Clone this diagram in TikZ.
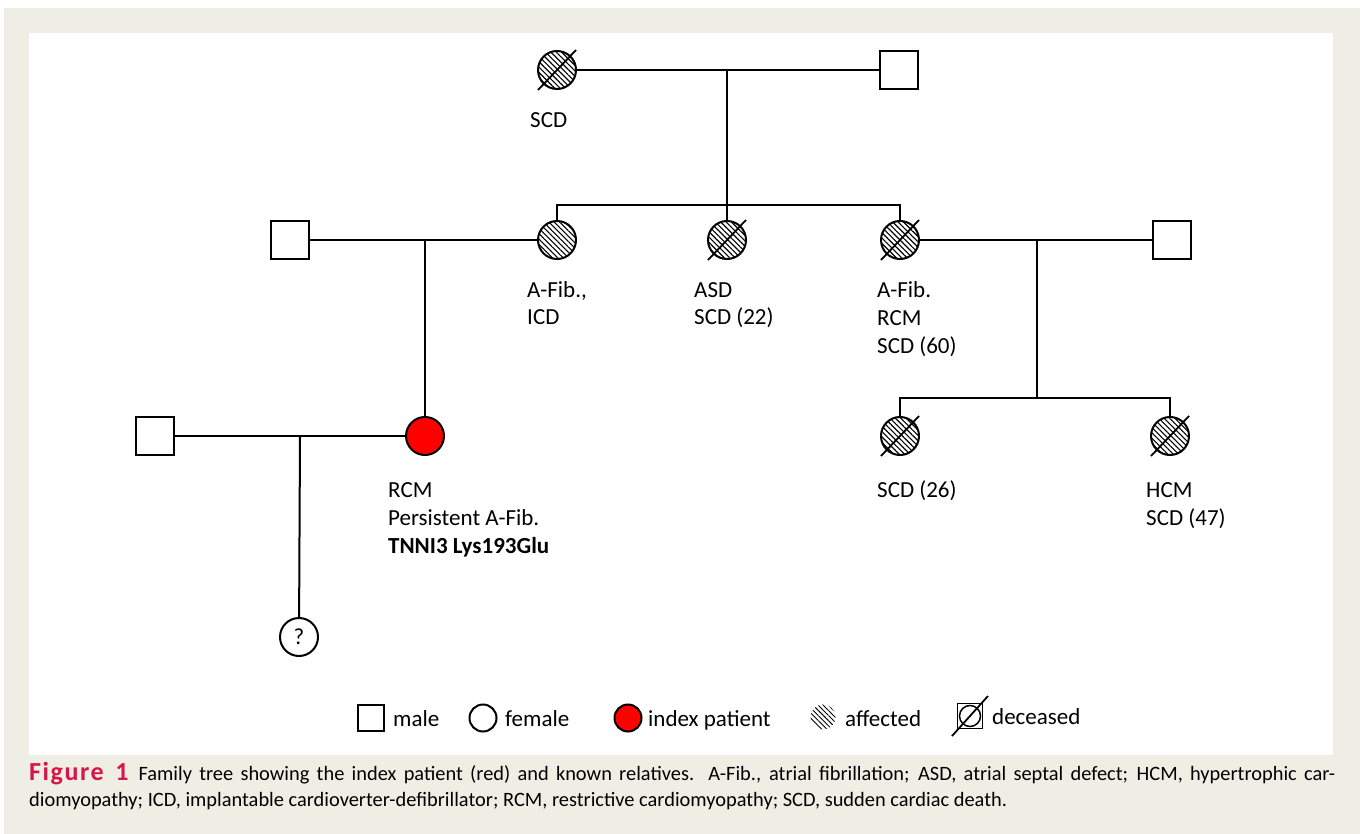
\documentclass[tikz,border=0pt]{standalone}
\usepackage{fontspec}
\setmainfont{Carlito}
\usepackage{xcolor}
\usetikzlibrary{patterns.meta}

\definecolor{paper}{HTML}{EFEEE4}
\definecolor{figred}{HTML}{D6164A}

\tikzset{
  male/.style={draw,line width=2pt,minimum size=38pt,inner sep=0pt,fill=white},
  female/.style={draw,circle,line width=2pt,minimum size=38pt,inner sep=0pt,fill=white},
  affected/.style={pattern={Lines[angle=-45,distance=3.8pt,line width=1.1pt]}},
  index/.style={fill=red},
  rel/.style={line width=2pt},
  slash/.style={line width=1.8pt},
  lbl/.style={anchor=base west,align=left,inner sep=0pt,font=\fontsize{23}{28}\selectfont},
}

\begin{document}
\begin{tikzpicture}[x=1pt,y=-1pt]
    \useasboundingbox (0,0) rectangle (1360,834);
    \fill[paper] (4,8) rectangle (1360,834);
    \fill[white] (29,33) rectangle (1333,755);

    % first generation
    \node[female,affected] (gm) at (557,70) {};
    \node[male] (gf) at (899,70) {};
    \coordinate (m1) at (727,70);
    \coordinate (s1) at (727,205);

    % second generation
    \node[male] (h1) at (290,240) {};
    \node[female,affected] (a1) at (557,240) {};
    \node[female,affected] (a2) at (727,240) {};
    \node[female,affected] (a3) at (900,240) {};
    \node[male] (h3) at (1172,240) {};
    \coordinate (m2) at (425,240);
    \coordinate (m3) at (1037,240);
    \coordinate (s3) at (1037,398);

    % third generation
    \node[male] (h4) at (155,436) {};
    \node[female,index] (idx) at (425,436) {};
    \node[female,affected] (c1) at (900,436) {};
    \node[female,affected] (c2) at (1170,436) {};
    \coordinate (m4) at (300,436);

    % fourth generation
    \node[female,font=\fontsize{23}{26}\selectfont] (q) at (299,637) {?};

    % lines of descent
    \draw[rel] (gm) -- (gf);
    \draw[rel] (m1) -- (s1);
    \draw[rel] (a1) |- (s1) -| (a3);
    \draw[rel] (a2) -- (s1);
    \draw[rel] (h1) -- (a1);
    \draw[rel] (m2) -- (idx);
    \draw[rel] (a3) -- (h3);
    \draw[rel] (m3) -- (s3);
    \draw[rel] (c1) |- (s3) -| (c2);
    \draw[rel] (h4) -- (idx);
    \draw[rel] (m4) -- (q);

    % deceased
    \foreach \n in {gm,a2,a3,c1,c2}
        \draw[slash] (\n.center) +(-19,20) -- +(19,-20);

    % labels (base = last line)
    \node[lbl] (t_gm) at (530,128) {SCD};
    \node[lbl] (t_a1) at (527,325) {A-Fib.,\\ICD};
    \node[lbl] (t_a2) at (694,325) {ASD\\SCD (22)};
    \node[lbl] (t_a3) at (877,353) {A-Fib.\\RCM\\SCD (60)};
    \node[lbl] (t_idx) at (388,553) {RCM\\Persistent A-Fib.\\\textbf{TNNI3 Lys193Glu}};
    \node[lbl] (t_c1) at (877,497) {SCD (26)};
    \node[lbl] (t_c2) at (1146,525) {HCM\\SCD (47)};

    % key
    \node[male,minimum size=26pt] (k1) at (371,718) {};
    \node[lbl] (k1t) at (393,726) {male};
    \node[female,minimum size=27pt] (k2) at (483,718) {};
    \node[lbl] (k2t) at (505,726) {female};
    \node[female,index,minimum size=27pt] (k3) at (628,718) {};
    \node[lbl] (k3t) at (648,726) {index patient};
    \node[circle,pattern={Lines[angle=-45,distance=3.6pt,line width=0.9pt]},minimum size=25pt,inner sep=0pt] (k4) at (823,717) {};
    \node[lbl] (k4t) at (845,726) {affected};
    \node[draw,line width=1.8pt,minimum size=25pt,inner sep=0pt] (k5) at (970,716) {};
    \node[female,minimum size=21pt,line width=1.5pt] (k5c) at (k5) {};
    \draw[slash] (k5.center) +(-18,20) -- +(18,-20);
    \node[lbl] (k5t) at (992,724) {deceased};

    % caption
    \node[anchor=base west,inner sep=0pt,text width=1306pt,align=justify,
          font=\fontsize{20.4}{26}\selectfont] (cap) at (29,780)
        {{\addfontfeature{LetterSpace=6}\bfseries\fontsize{26}{26}\selectfont\color{figred}Figure 1}\hspace{10pt}Family tree showing the index patient (red) and known relatives. A-Fib., atrial fibrillation; ASD, atrial septal defect; HCM, hypertrophic car-\linebreak diomyopathy; ICD, implantable cardioverter-defibrillator; RCM, restrictive cardiomyopathy; SCD, sudden cardiac death.};
\end{tikzpicture}
\end{document}
